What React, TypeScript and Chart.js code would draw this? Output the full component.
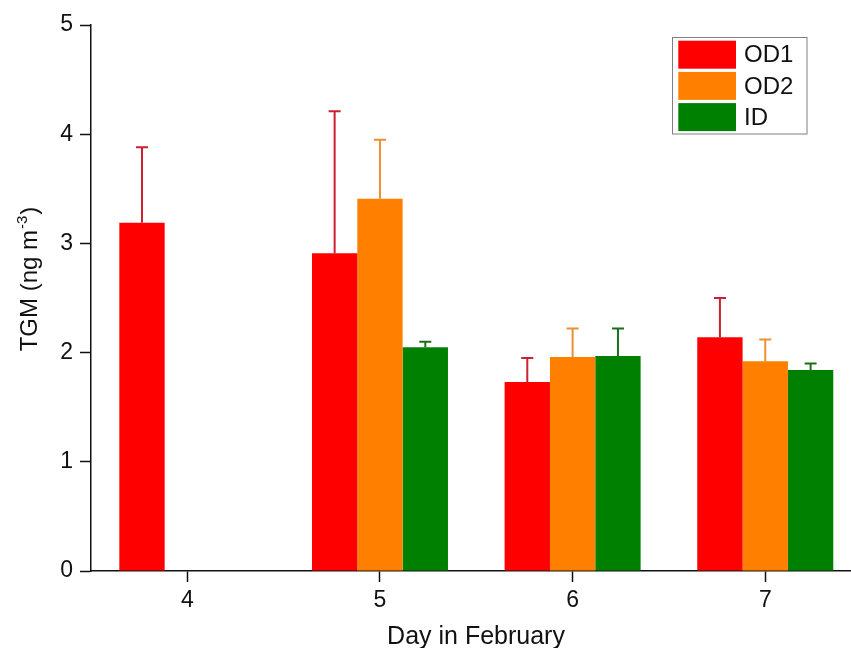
import React, { useEffect, useRef } from 'react';
import { Chart, registerables } from 'chart.js';

Chart.register(...registerables);

// ---- data ----
const days = [4, 5, 6, 7];
const seriesLabels = ['OD1', 'OD2', 'ID'];
const od1Values = [3.19, 2.91, 1.73, 2.14];
const od1Errors = [0.69, 1.3, 0.22, 0.36];
const od2Values = [null, 3.41, 1.96, 1.92];
const od2Errors = [null, 0.54, 0.26, 0.2];
const idValues = [null, 2.05, 1.97, 1.84];
const idErrors = [null, 0.05, 0.25, 0.06];
const xTickValues = [4, 5, 6, 7];
const yTickValues = [0, 1, 2, 3, 4, 5];
const xTitle = 'Day in February';
const yTitleMain = 'TGM (ng m';
const yTitleSup = '-3';
const yTitleEnd = ')';

const barColors = ['#ff0000', '#ff8000', '#008000'];
const errColors = ['#cc2030', '#ec9030', '#187018'];
const FONT = "'Liberation Sans', Arial, sans-serif";

function points(values: (number | null)[], errors: (number | null)[]) {
  const out: any[] = [];
  values.forEach((v, i) => {
    if (v !== null) out.push({ x: days[i], y: v, err: errors[i] });
  });
  return out;
}

const errorBarPlugin = {
  id: 'errorBars',
  afterDatasetsDraw(chart: any) {
    const ctx = chart.ctx;
    const yScale = chart.scales.y;
    chart.data.datasets.forEach((ds: any, di: number) => {
      const meta = chart.getDatasetMeta(di);
      meta.data.forEach((bar: any, i: number) => {
        const raw = ds.data[i];
        if (!raw || raw.err == null) return;
        const top = yScale.getPixelForValue(raw.y + raw.err);
        const x = bar.x;
        ctx.save();
        ctx.strokeStyle = errColors[di];
        ctx.lineWidth = 2;
        ctx.beginPath();
        ctx.moveTo(x, bar.y);
        ctx.lineTo(x, top);
        ctx.moveTo(x - 6, top);
        ctx.lineTo(x + 6, top);
        ctx.stroke();
        ctx.restore();
      });
    });
  },
};

const decorPlugin = {
  id: 'decor',
  afterDraw(chart: any) {
    const ctx = chart.ctx;
    ctx.save();
    // x title
    ctx.fillStyle = '#111';
    ctx.font = `25px ${FONT}`;
    ctx.textAlign = 'center';
    ctx.textBaseline = 'alphabetic';
    ctx.fillText(xTitle, 476, 644);

    // y title with superscript
    ctx.save();
    ctx.translate(37, 279);
    ctx.rotate(-Math.PI / 2);
    ctx.textAlign = 'left';
    ctx.font = `24px ${FONT}`;
    const w1 = ctx.measureText(yTitleMain).width;
    const w3 = ctx.measureText(yTitleEnd).width;
    ctx.font = `15px ${FONT}`;
    const w2 = ctx.measureText(yTitleSup).width;
    const total = w1 + w2 + w3 + 2;
    let sx = -total / 2;
    ctx.font = `24px ${FONT}`;
    ctx.fillText(yTitleMain, sx, 0);
    sx += w1 + 1;
    ctx.font = `15px ${FONT}`;
    ctx.fillText(yTitleSup, sx, -10);
    sx += w2 + 1;
    ctx.font = `24px ${FONT}`;
    ctx.fillText(yTitleEnd, sx, 0);
    ctx.restore();

    // legend
    const lx = 672.5, ly = 37.5, lw = 134.5, lh = 96.5;
    ctx.strokeStyle = '#808080';
    ctx.lineWidth = 1;
    ctx.strokeRect(lx, ly, lw, lh);
    ctx.font = `24px ${FONT}`;
    ctx.textAlign = 'left';
    ctx.textBaseline = 'middle';
    chart.data.datasets.forEach((ds: any, i: number) => {
      const sy = 40.7 + i * 31.2;
      ctx.fillStyle = ds.backgroundColor;
      ctx.fillRect(678.3, sy, 57.7, 28);
      ctx.fillStyle = '#111';
      ctx.fillText(ds.label, 744, sy + 15);
    });
    ctx.restore();
  },
};

export default function App() {
  const ref = useRef<HTMLCanvasElement>(null);
  useEffect(() => {
    if (!ref.current) return;
    const chart = new Chart(ref.current, {
      type: 'bar',
      data: {
        datasets: [
          { label: seriesLabels[0], data: points(od1Values, od1Errors), backgroundColor: barColors[0] },
          { label: seriesLabels[1], data: points(od2Values, od2Errors), backgroundColor: barColors[1] },
          { label: seriesLabels[2], data: points(idValues, idErrors), backgroundColor: barColors[2] },
        ] as any,
      },
      options: {
        animation: false,
        responsive: false,
        devicePixelRatio: 1,
        categoryPercentage: 0.706,
        barPercentage: 1,
        layout: { padding: { top: 25, right: 0, left: 0, bottom: 0 } },
        plugins: { legend: { display: false }, tooltip: { enabled: false }, title: { display: false } },
        scales: {
          x: {
            type: 'linear',
            min: 3.5,
            max: 7.445,
            offset: false,
            afterBuildTicks: (scale: any) => {
              scale.ticks = xTickValues.map((v) => ({ value: v }));
            },
            afterFit: (scale: any) => {
              scale.height = 77;
            },
            grid: {
              offset: false,
              drawOnChartArea: false,
              drawTicks: true,
              tickLength: 11,
              tickWidth: 1.5,
              tickColor: '#111',
            },
            border: { display: true, color: '#111', width: 1.5 },
            ticks: {
              padding: 5,
              color: '#111',
              font: { family: FONT, size: 23 },
              callback: (v: any) => String(v),
            },
          },
          y: {
            type: 'linear',
            min: 0,
            max: 5,
            afterBuildTicks: (scale: any) => {
              scale.ticks = yTickValues.map((v) => ({ value: v }));
            },
            afterFit: (scale: any) => {
              scale.width = 91;
            },
            grid: {
              drawOnChartArea: false,
              drawTicks: true,
              tickLength: 11,
              tickWidth: 1.5,
              tickColor: '#111',
            },
            border: { display: true, color: '#111', width: 1.5 },
            ticks: {
              padding: 7,
              color: '#111',
              font: { family: FONT, size: 23 },
            },
          },
        },
      } as any,
      plugins: [errorBarPlugin, decorPlugin],
    });
    return () => chart.destroy();
  }, []);
  return (
    <div style={{ position: 'absolute', left: 0, top: 0, width: 851, height: 648, background: '#fff' }}>
      <canvas ref={ref} width={851} height={648} style={{ display: 'block' }} />
    </div>
  );
}
